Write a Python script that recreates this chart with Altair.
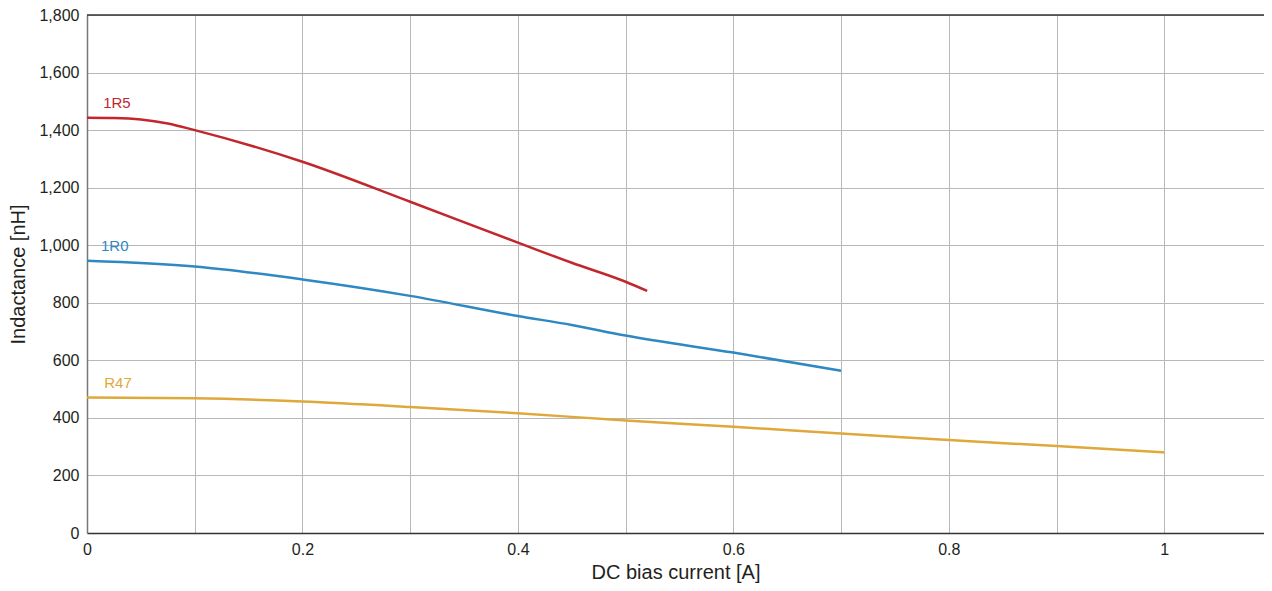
import altair as alt
import pandas as pd

# Data
x_1r5 = [0.0, 0.025, 0.05, 0.075, 0.1, 0.2, 0.3, 0.4, 0.45, 0.5, 0.52]
y_1r5 = [1443, 1442, 1437, 1423, 1400, 1290, 1151, 1009, 939, 873, 841]

x_1r0 = [0.0, 0.1, 0.2, 0.3, 0.4, 0.45, 0.5, 0.6, 0.7]
y_1r0 = [946, 926, 881, 824, 754, 723, 686, 627, 564]

x_r47 = [0.0, 0.1, 0.2, 0.3, 0.4, 0.5, 0.6, 0.7, 0.8, 0.9, 1.0]
y_r47 = [471, 468, 457, 438, 416, 391, 369, 346, 323, 302, 280]

series_names = ["1R5", "1R0", "R47"]
series_colors = ["#C1272D", "#2E88C2", "#DFA83B"]
label_x = [0.015, 0.013, 0.016]
label_y = [1468, 970, 494]

rows = []
for name, xs, ys in zip(series_names, [x_1r5, x_1r0, x_r47], [y_1r5, y_1r0, y_r47]):
    for xv, yv in zip(xs, ys):
        rows.append({"series": name, "x": xv, "y": yv})
df = pd.DataFrame(rows)
labels_df = pd.DataFrame({"series": series_names, "x": label_x, "y": label_y})

FONT = "Liberation Sans"
W, H = 1177, 518
XMAX = 1.1 * W / 1185

xscale = alt.Scale(domain=[0, XMAX], nice=False, zero=False)
yscale = alt.Scale(domain=[0, 1800], nice=False)
color = alt.Color("series:N", scale=alt.Scale(domain=series_names, range=series_colors), legend=None)

x_axis = alt.Axis(
    title="DC bias current [A]",
    values=[round(i * 0.1, 1) for i in range(11)],
    labelExpr="(round(datum.value*10) % 2 == 0) ? format(datum.value, '~g') : ''",
    labelFlush=False,
    grid=True, gridColor="#b8b8b8", gridWidth=1,
    ticks=False, domainColor="#333333", domainWidth=1.5,
    labelFontSize=16, labelColor="#231F20", labelPadding=8, labelFont=FONT,
    titleFontSize=20, titleFontWeight="normal", titleColor="#231F20", titleFont=FONT,
    titlePadding=5,
)
y_axis = alt.Axis(
    title="Indactance [nH]",
    values=list(range(0, 1801, 200)),
    labelExpr="format(datum.value, ',d')",
    labelFlush=False,
    grid=True, gridColor="#b8b8b8", gridWidth=1,
    ticks=False, domainColor="#777777", domainWidth=1.5,
    labelFontSize=16, labelColor="#231F20", labelPadding=8, labelFont=FONT,
    titleFontSize=20, titleFontWeight="normal", titleColor="#231F20", titleFont=FONT,
    titlePadding=10,
)

lines = alt.Chart(df).mark_line(strokeWidth=2.5, interpolate="monotone").encode(
    x=alt.X("x:Q", scale=xscale, axis=x_axis),
    y=alt.Y("y:Q", scale=yscale, axis=y_axis),
    color=color,
    detail="series:N",
)

texts = alt.Chart(labels_df).mark_text(
    align="left", baseline="bottom", fontSize=15, font=FONT
).encode(
    x=alt.X("x:Q", scale=xscale, axis=x_axis),
    y=alt.Y("y:Q", scale=yscale, axis=y_axis),
    text="series:N",
    color=color,
)

top_rule = alt.Chart(labels_df.head(1)).mark_rule(color="#333333", strokeWidth=1.5).encode(
    x=alt.value(0), x2=alt.value(W), y=alt.value(0)
)

chart = alt.layer(lines, texts, top_rule).properties(
    width=W, height=H,
    autosize=alt.AutoSizeParams(type="none"),
    padding={"left": 79, "top": 7, "right": 0, "bottom": 50},
).configure_view(stroke=None).configure(background="white")

chart.save("out.html", embed_options={"renderer": "svg", "actions": False})
